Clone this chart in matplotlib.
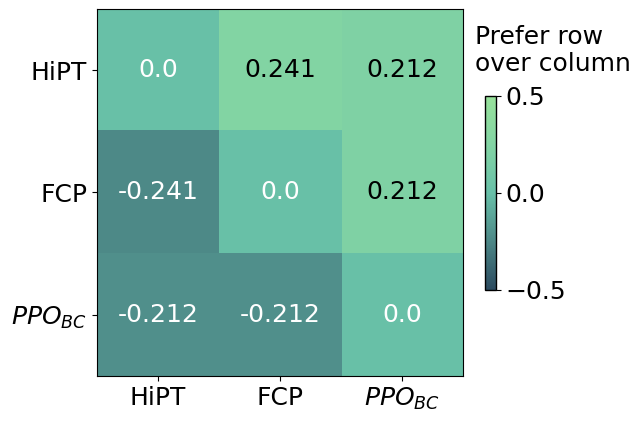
import matplotlib
matplotlib.use("Agg")
import matplotlib.pyplot as plt
import numpy as np
from matplotlib.colors import LinearSegmentedColormap

# Data
labels = ['HiPT', 'FCP', r'$PPO_{BC}$']
prefs = np.array([[0.0, 0.241, 0.212],
                  [-0.241, 0.0, 0.212],
                  [-0.212, -0.212, 0.0]])
vmin, vmax = -0.5, 0.5

cmap = LinearSegmentedColormap.from_list(
    'pref', [(0.0, '#2b4a5f'), (0.26, '#4e8a88'), (0.5, '#68c0a8'),
             (0.74, '#82d4a4'), (1.0, '#98e29b')], N=256)

fig = plt.figure(figsize=(6.4, 4.22), dpi=100)
ax = fig.add_axes([0.1516, 0.109, 0.5719, 0.8697])
im = ax.imshow(prefs, cmap=cmap, vmin=vmin, vmax=vmax, aspect='auto')

ax.set_xticks(range(len(labels)))
ax.set_yticks(range(len(labels)))
ax.set_xticklabels(labels, fontsize=18)
ax.set_yticklabels(labels, fontsize=18)

for i in range(prefs.shape[0]):
    for j in range(prefs.shape[1]):
        v = prefs[i, j]
        col = 'black' if v > 0 else 'white'
        ax.text(j, i, str(v), ha='center', va='center', color=col, fontsize=18)

cax = fig.add_axes([0.758, 0.3128, 0.0172, 0.46])
cb = fig.colorbar(im, cax=cax, ticks=[-0.5, 0.0, 0.5])
cb.ax.tick_params(labelsize=18)
cb.outline.set_linewidth(1)
fig.text(0.742, 0.88, 'Prefer row\nover column', fontsize=18, ha='left', va='center',
         linespacing=1.15)

fig.savefig('out.png', dpi=100)
